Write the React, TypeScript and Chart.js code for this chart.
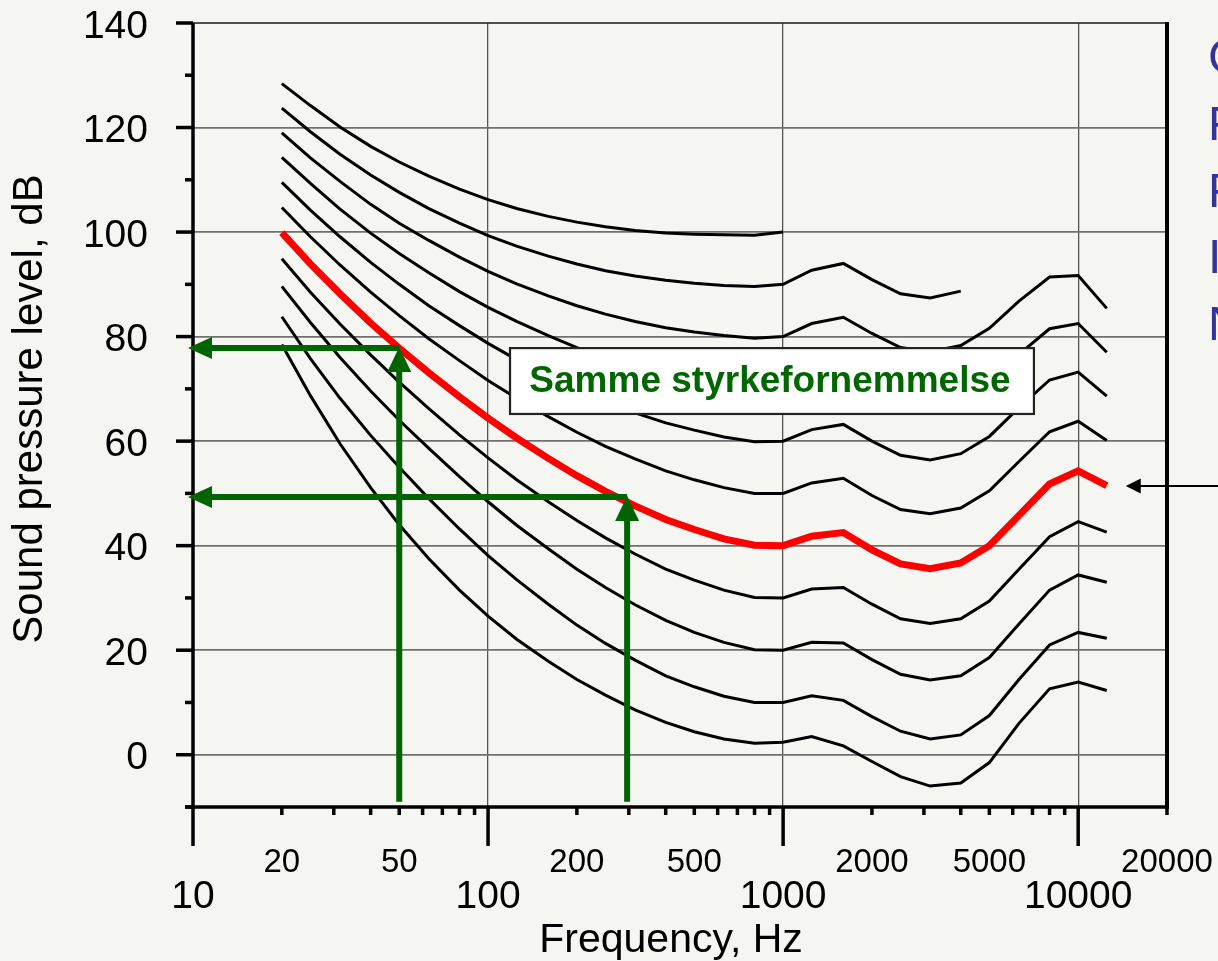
import React, { useEffect, useRef } from 'react';
import { Chart, registerables } from 'chart.js';

Chart.register(...registerables);

// ISO 226 style equal-loudness contours
const frequencies = [20, 25, 31.5, 40, 50, 63, 80, 100, 125, 160, 200, 250, 315, 400, 500, 630, 800, 1000, 1250, 1600, 2000, 2500, 3150, 4000, 5000, 6300, 8000, 10000, 12500];

const threshold = [78.5, 68.7, 59.5, 51.1, 44.0, 37.5, 31.5, 26.5, 22.1, 17.9, 14.4, 11.4, 8.6, 6.2, 4.4, 3.0, 2.2, 2.4, 3.5, 1.7, -1.3, -4.2, -6.0, -5.4, -1.5, 6.0, 12.6, 13.9, 12.3];
const phon10 = [83.8, 75.8, 68.2, 61.1, 55.0, 49.0, 43.2, 38.1, 33.5, 28.8, 24.8, 21.3, 18.1, 15.1, 13.0, 11.2, 10.0, 10.0, 11.3, 10.4, 7.3, 4.5, 3.0, 3.8, 7.5, 14.4, 21.0, 23.4, 22.3];
const phon20 = [89.6, 82.7, 76.0, 69.6, 64.0, 58.6, 53.2, 48.4, 43.9, 39.4, 35.5, 32.0, 28.7, 25.7, 23.4, 21.5, 20.1, 20.0, 21.5, 21.4, 18.2, 15.4, 14.3, 15.1, 18.6, 25.0, 31.5, 34.4, 33.0];
const phon30 = [94.9, 88.5, 82.4, 76.5, 71.3, 66.2, 61.2, 56.8, 52.6, 48.4, 44.8, 41.5, 38.4, 35.5, 33.4, 31.5, 30.1, 30.0, 31.7, 32.0, 28.8, 26.0, 25.1, 26.0, 29.4, 35.5, 41.7, 44.6, 42.6];
const phon40 = [99.9, 93.9, 88.2, 82.6, 77.8, 73.1, 68.5, 64.4, 60.6, 56.7, 53.4, 50.4, 47.6, 45.0, 43.1, 41.3, 40.1, 40.0, 41.8, 42.5, 39.2, 36.5, 35.6, 36.7, 40.0, 45.8, 51.8, 54.3, 51.5];
const phon50 = [104.7, 99.1, 93.7, 88.5, 84.0, 79.6, 75.4, 71.6, 68.2, 64.7, 61.7, 59.0, 56.6, 54.3, 52.6, 51.1, 50.0, 50.0, 52.0, 52.9, 49.6, 46.9, 46.1, 47.2, 50.5, 56.1, 61.8, 63.8, 60.1];
const phon60 = [109.5, 104.2, 99.1, 94.2, 90.0, 85.9, 82.1, 78.7, 75.6, 72.5, 69.9, 67.5, 65.4, 63.5, 62.1, 60.8, 59.9, 60.0, 62.2, 63.2, 60.0, 57.3, 56.4, 57.6, 60.9, 66.4, 71.7, 73.2, 68.6];
const phon70 = [114.3, 109.3, 104.4, 99.8, 95.9, 92.2, 88.6, 85.6, 82.9, 80.2, 77.9, 75.9, 74.2, 72.6, 71.5, 70.5, 69.8, 70.0, 72.3, 73.5, 70.3, 67.6, 66.8, 68.0, 71.3, 76.6, 81.5, 82.5, 77.0];
const phon80 = [119.0, 114.2, 109.7, 105.3, 101.7, 98.4, 95.2, 92.5, 90.1, 87.8, 85.9, 84.3, 82.9, 81.7, 80.9, 80.2, 79.7, 80.0, 82.5, 83.7, 80.6, 77.9, 77.1, 78.3, 81.6, 86.8, 91.4, 91.7, 85.4];
const phon90 = [123.7, 119.2, 114.9, 110.9, 107.6, 104.5, 101.7, 99.3, 97.3, 95.4, 93.9, 92.6, 91.6, 90.8, 90.2, 89.8, 89.6, 90.0, 92.7, 94.0, 90.9, 88.2, 87.4, 88.7, null, null, null, null, null];
const phon100 = [128.4, 124.2, 120.1, 116.4, 113.4, 110.7, 108.2, 106.2, 104.5, 103.0, 101.9, 101.0, 100.3, 99.8, 99.6, 99.5, 99.4, 100.0, null, null, null, null, null, null, null, null, null, null, null];

const blackCurves = [threshold, phon10, phon20, phon30, phon50, phon60, phon70, phon80, phon90, phon100];
const redCurve = phon40;

// axes
const yMajorTicks = [0, 20, 40, 60, 80, 100, 120, 140];
const yMinorTicks = [-10, 10, 30, 50, 70, 90, 110, 130];
const yGridValues = [0, 20, 40, 60, 80, 100, 120];
const xMajorTicks = [10, 100, 1000, 10000];
const xMinorTicks = [20, 30, 40, 50, 60, 70, 80, 90, 200, 300, 400, 500, 600, 700, 800, 900, 2000, 3000, 4000, 5000, 6000, 7000, 8000, 9000, 20000];
const xGridValues = [100, 1000, 10000];
const xSmallLabels = ['20', '50', '200', '500', '2000', '5000', '20000'];
const xBigLabels = ['10', '100', '1000', '10000'];
const xTitle = 'Frequency, Hz';
const yTitle = 'Sound pressure level, dB';

// annotations
const arrowFreqs = [50, 296];
const arrowLevels = [77.8, 49.3];
const boxFreqs = [118.7, 7080];
const boxLevels = [65.2, 77.8];
const boxText = 'Samme styrkefornemmelse';
const pointerLevel = 51.4;
const sideLetters = ['C', 'F', 'F', 'I', 'N'];

const FONT = '"Liberation Sans", Arial, sans-serif';

const decorPlugin = {
  id: 'decor',
  beforeDraw(chart: any) {
    const { ctx, width, height } = chart;
    ctx.save();
    ctx.fillStyle = '#f5f5f1';
    ctx.fillRect(0, 0, width, height);
    ctx.restore();
  },
  afterDatasetsDraw(chart: any) {
    const ctx: CanvasRenderingContext2D = chart.ctx;
    const xs = chart.scales.x;
    const ys = chart.scales.y;
    const X = (v: number) => xs.getPixelForValue(v);
    const Y = (v: number) => ys.getPixelForValue(v);
    const left = X(10);
    const right = X(20000);
    const top = Y(140);
    const bottom = Y(-10);
    ctx.save();

    const line = (x1: number, y1: number, x2: number, y2: number) => {
      ctx.beginPath();
      ctx.moveTo(x1, y1);
      ctx.lineTo(x2, y2);
      ctx.stroke();
    };

    // frame
    ctx.strokeStyle = '#1a1a1a';
    ctx.lineCap = 'butt';
    ctx.lineWidth = 1.5;
    line(left, top, right, top);
    ctx.strokeStyle = '#000';
    ctx.lineWidth = 4;
    line(right, top - 1, right, bottom + 2);
    ctx.lineWidth = 3.5;
    line(left, top, left, bottom);
    line(left - 8, bottom, right + 2, bottom);

    // y ticks
    yMajorTicks.forEach((v) => line(left - 17, Y(v), left, Y(v)));
    yMinorTicks.forEach((v) => line(left - 8, Y(v), left, Y(v)));
    // x ticks
    xMajorTicks.forEach((v) => line(X(v), bottom, X(v), bottom + 39));
    xMinorTicks.forEach((v) => line(X(v), bottom, X(v), bottom + 8));

    // tick labels
    ctx.fillStyle = '#000';
    ctx.font = `39px ${FONT}`;
    ctx.textAlign = 'right';
    ctx.textBaseline = 'alphabetic';
    yMajorTicks.forEach((v) => ctx.fillText(String(v), left - 45, Y(v) + 14.5));
    ctx.textAlign = 'center';
    ctx.font = `33px ${FONT}`;
    xSmallLabels.forEach((s) => ctx.fillText(s, X(Number(s)), bottom + 65));
    ctx.font = `39px ${FONT}`;
    xBigLabels.forEach((s) => ctx.fillText(s, X(Number(s)), bottom + 101));

    // titles
    ctx.font = `41px ${FONT}`;
    ctx.fillText(xTitle, (left + right) / 2 - 9, bottom + 145);
    ctx.save();
    ctx.translate(42, (top + bottom) / 2 - 6);
    ctx.rotate(-Math.PI / 2);
    ctx.font = `42px ${FONT}`;
    ctx.fillText(yTitle, 0, 0);
    ctx.restore();

    // green arrows
    ctx.strokeStyle = '#006400';
    ctx.fillStyle = '#006400';
    ctx.lineWidth = 6;
    arrowFreqs.forEach((f, i) => {
      const fx = X(f);
      const ly = Y(arrowLevels[i]);
      const by = Y(-9);
      line(fx, ly, left + 18, ly);
      ctx.beginPath();
      ctx.moveTo(left - 5, ly);
      ctx.lineTo(left + 19, ly - 11);
      ctx.lineTo(left + 19, ly + 11);
      ctx.closePath();
      ctx.fill();
      line(fx, by, fx, ly + 22);
      ctx.beginPath();
      ctx.moveTo(fx, ly - 1);
      ctx.lineTo(fx - 12, ly + 24);
      ctx.lineTo(fx + 12, ly + 24);
      ctx.closePath();
      ctx.fill();
    });

    // label box
    const bx1 = X(boxFreqs[0]);
    const bx2 = X(boxFreqs[1]);
    const by1 = Y(boxLevels[1]);
    const by2 = Y(boxLevels[0]);
    ctx.fillStyle = '#ffffff';
    ctx.fillRect(bx1, by1, bx2 - bx1, by2 - by1);
    ctx.strokeStyle = '#222';
    ctx.lineWidth = 2.2;
    ctx.strokeRect(bx1, by1, bx2 - bx1, by2 - by1);
    ctx.fillStyle = '#006600';
    ctx.font = `bold 37px ${FONT}`;
    ctx.textAlign = 'center';
    ctx.textBaseline = 'middle';
    ctx.fillText(boxText, (bx1 + bx2) / 2 - 2, (by1 + by2) / 2 + 1);

    // pointer arrow on the right
    const py = Y(pointerLevel);
    const tip = X(12500) + 19;
    ctx.strokeStyle = '#000';
    ctx.fillStyle = '#000';
    ctx.lineWidth = 2;
    line(chart.width, py, tip + 10, py);
    ctx.beginPath();
    ctx.moveTo(tip, py);
    ctx.lineTo(tip + 15, py - 7.5);
    ctx.lineTo(tip + 15, py + 7.5);
    ctx.closePath();
    ctx.fill();

    // cut-off side text
    ctx.fillStyle = '#33339c';
    ctx.font = `48px ${FONT}`;
    ctx.textAlign = 'left';
    ctx.textBaseline = 'alphabetic';
    sideLetters.forEach((s, i) => ctx.fillText(s, right + 41, top + 50 + i * 66.8));

    ctx.restore();
  },
};

export default function App() {
  const canvasRef = useRef<HTMLCanvasElement | null>(null);

  useEffect(() => {
    const canvas = canvasRef.current;
    if (!canvas) return;
    const toPoints = (arr: (number | null)[]) => frequencies.map((f, i) => ({ x: f, y: arr[i] }));
    const datasets: any[] = blackCurves.map((c) => ({
      data: toPoints(c),
      borderColor: '#000000',
      borderWidth: 3,
      pointRadius: 0,
      fill: false,
      tension: 0,
      spanGaps: false,
    }));
    datasets.push({
      data: toPoints(redCurve),
      borderColor: '#ff0000',
      borderWidth: 7,
      pointRadius: 0,
      fill: false,
      tension: 0,
      spanGaps: false,
    });

    const chart = new Chart(canvas, {
      type: 'line',
      data: { datasets },
      options: {
        responsive: false,
        animation: false,
        devicePixelRatio: 1,
        layout: { padding: { left: 193, right: 51, top: 23, bottom: 154 }, autoPadding: false },
        plugins: { legend: { display: false }, tooltip: { enabled: false }, title: { display: false } },
        elements: { point: { radius: 0 }, line: { tension: 0 } },
        scales: {
          x: {
            type: 'logarithmic',
            min: 10,
            max: 20000,
            ticks: { display: false },
            border: { display: false },
            grid: { drawTicks: false, color: '#555555', lineWidth: 1.3 },
            afterBuildTicks: (s: any) => {
              s.ticks = xGridValues.map((v) => ({ value: v }));
            },
            afterFit: (s: any) => {
              s.height = 0;
            },
          },
          y: {
            type: 'linear',
            min: -10,
            max: 140,
            ticks: { display: false },
            border: { display: false },
            grid: { drawTicks: false, color: '#707070', lineWidth: 1.8 },
            afterBuildTicks: (s: any) => {
              s.ticks = yGridValues.map((v) => ({ value: v }));
            },
            afterFit: (s: any) => {
              s.width = 0;
            },
          },
        },
      } as any,
      plugins: [decorPlugin],
    });
    return () => chart.destroy();
  }, []);

  return (
    <div style={{ position: 'fixed', left: 0, top: 0, width: 1218, height: 961, background: '#f5f5f1' }}>
      <canvas ref={canvasRef} width={1218} height={961} style={{ display: 'block' }} />
    </div>
  );
}
